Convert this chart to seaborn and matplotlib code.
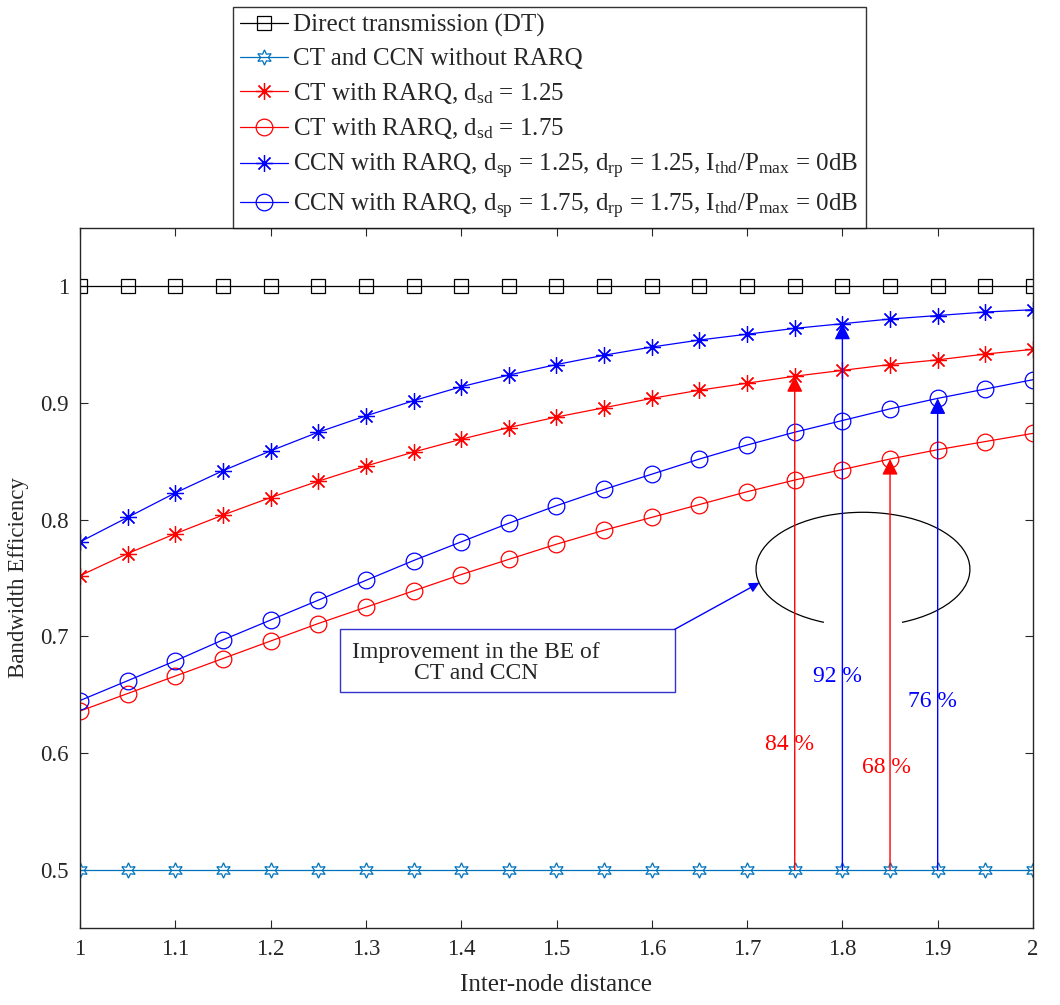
import numpy as np
import pandas as pd
import matplotlib
matplotlib.use("Agg")
import matplotlib.pyplot as plt
from matplotlib.patches import Arc, Rectangle
import seaborn as sns

# ---------------- data ----------------
distance = [1.00, 1.05, 1.10, 1.15, 1.20, 1.25, 1.30, 1.35, 1.40, 1.45, 1.50,
            1.55, 1.60, 1.65, 1.70, 1.75, 1.80, 1.85, 1.90, 1.95, 2.00]
dt = [1.0] * 21
no_rarq = [0.5] * 21
ct_125 = [0.752, 0.771, 0.788, 0.804, 0.819, 0.833, 0.846, 0.858, 0.869, 0.879, 0.888,
          0.896, 0.904, 0.911, 0.917, 0.923, 0.928, 0.933, 0.937, 0.942, 0.946]
ct_175 = [0.636, 0.651, 0.666, 0.681, 0.696, 0.711, 0.725, 0.739, 0.753, 0.766, 0.779,
          0.791, 0.802, 0.813, 0.824, 0.834, 0.843, 0.852, 0.860, 0.867, 0.874]
ccn_125 = [0.781, 0.802, 0.823, 0.842, 0.859, 0.875, 0.889, 0.902, 0.914, 0.924, 0.933,
           0.941, 0.948, 0.954, 0.959, 0.964, 0.968, 0.972, 0.975, 0.978, 0.980]
ccn_175 = [0.645, 0.662, 0.679, 0.697, 0.714, 0.731, 0.748, 0.765, 0.781, 0.797, 0.812,
           0.826, 0.839, 0.852, 0.864, 0.875, 0.885, 0.895, 0.904, 0.912, 0.920]

labels = [
    "Direct transmission (DT)",
    "CT and CCN without RARQ",
    r"CT with RARQ, d$_{\mathrm{sd}}$ = 1.25",
    r"CT with RARQ, d$_{\mathrm{sd}}$ = 1.75",
    r"CCN with RARQ, d$_{\mathrm{sp}}$ = 1.25, d$_{\mathrm{rp}}$ = 1.25, I$_{\mathrm{thd}}$/P$_{\mathrm{max}}$ = 0dB",
    r"CCN with RARQ, d$_{\mathrm{sp}}$ = 1.75, d$_{\mathrm{rp}}$ = 1.75, I$_{\mathrm{thd}}$/P$_{\mathrm{max}}$ = 0dB",
]
series = [dt, no_rarq, ct_125, ct_175, ccn_125, ccn_175]
colors = ["#000000", "#0072BD", "#FF0000", "#FF0000", "#0000FF", "#0000FF"]
markers = ["s", (6, 1, 0), (8, 2, 0), "o", (8, 2, 0), "o"]
msizes = [10, 11, 12, 12, 12, 12]

improve_x = [1.75, 1.80, 1.85, 1.90]
improve_lbl = ["84 %", "92 %", "68 %", "76 %"]
improve_src = [ct_125, ccn_125, ct_175, ccn_175]
improve_col = ["#FF0000", "#0000FF", "#FF0000", "#0000FF"]
improve_txt_xy = [(1.745, 0.607), (1.795, 0.666), (1.846, 0.588), (1.894, 0.644)]

# ---------------- style ----------------
sns.set_style("ticks")
plt.rcParams["font.family"] = ["Liberation Serif", "DejaVu Serif"]
plt.rcParams["mathtext.fontset"] = "custom"
plt.rcParams["mathtext.rm"] = "Liberation Serif"
plt.rcParams["mathtext.it"] = "Liberation Serif:italic"
plt.rcParams["mathtext.bf"] = "Liberation Serif:bold"

fig = plt.figure(figsize=(10.6, 10.05), dpi=100)
ax = fig.add_axes([0.0755, 0.0766, 0.899, 0.6965])

df = pd.DataFrame({"x": distance * 6,
                   "y": sum(series, []),
                   "series": np.repeat(labels, len(distance))})

for lab, col, mk, ms in zip(labels, colors, markers, msizes):
    sub = df[df["series"] == lab]
    sns.lineplot(data=sub, x="x", y="y", ax=ax, color=col, marker=mk,
                 markersize=ms, markerfacecolor="none", markeredgecolor=col,
                 markeredgewidth=0.9, linewidth=0.9, label=lab, legend=False,
                 sort=False, estimator=None)

# improvement arrows
for xv, src, col, lbl, txy in zip(improve_x, improve_src, improve_col,
                                  improve_lbl, improve_txt_xy):
    yv = src[distance.index(xv)]
    ax.annotate("", xy=(xv, yv), xytext=(xv, 0.5),
                arrowprops=dict(arrowstyle="-|>", color=col, lw=1.0,
                                mutation_scale=24, shrinkA=0, shrinkB=0))
    ax.text(txy[0], txy[1], lbl, color=col, fontsize=17, ha="center", va="center")

# ellipse (open arc)
ax.add_patch(Arc((1.8216, 0.7575), 0.2245, 0.0977, theta1=-48, theta2=228,
                 color="black", lw=0.9))

# text box
ax.add_patch(Rectangle((1.273, 0.652), 0.351, 0.054, fill=False,
                       edgecolor="#3333CC", lw=1.0))
ax.text(1.4155, 0.677, "Improvement in the BE of\nCT and CCN", ha="center",
        va="center", fontsize=17, linespacing=1.0)
ax.annotate("", xy=(1.713, 0.746), xytext=(1.624, 0.706),
            arrowprops=dict(arrowstyle="-|>", color="#0000FF", lw=1.0,
                            mutation_scale=15, shrinkA=0, shrinkB=0))

# axes
ax.set_xlim(1, 2)
ax.set_ylim(0.45, 1.05)
ax.set_xticks(np.arange(1, 2.01, 0.1))
ax.set_xticklabels(["1", "1.1", "1.2", "1.3", "1.4", "1.5", "1.6", "1.7", "1.8", "1.9", "2"])
ax.set_yticks([0.5, 0.6, 0.7, 0.8, 0.9, 1.0])
ax.set_yticklabels(["0.5", "0.6", "0.7", "0.8", "0.9", "1"])
ax.tick_params(direction="in", top=True, right=True, labelsize=16.5,
               length=6, width=0.8, colors="#262626", pad=8)
for sp in ax.spines.values():
    sp.set_color("#262626")
    sp.set_linewidth(1.0)
ax.set_xlabel("Inter-node distance", fontsize=18, labelpad=10)
ax.set_ylabel("Bandwidth Efficiency", fontsize=16.5, labelpad=8)

leg = ax.legend(loc="lower left", bbox_to_anchor=(0.1605, 1.0), borderaxespad=0,
                fontsize=18, frameon=True, fancybox=False, edgecolor="black",
                handlelength=1.9, handletextpad=0.2, labelspacing=0.42,
                borderpad=0.3)
leg.get_frame().set_linewidth(1.0)

fig.savefig("out.png", dpi=100)
